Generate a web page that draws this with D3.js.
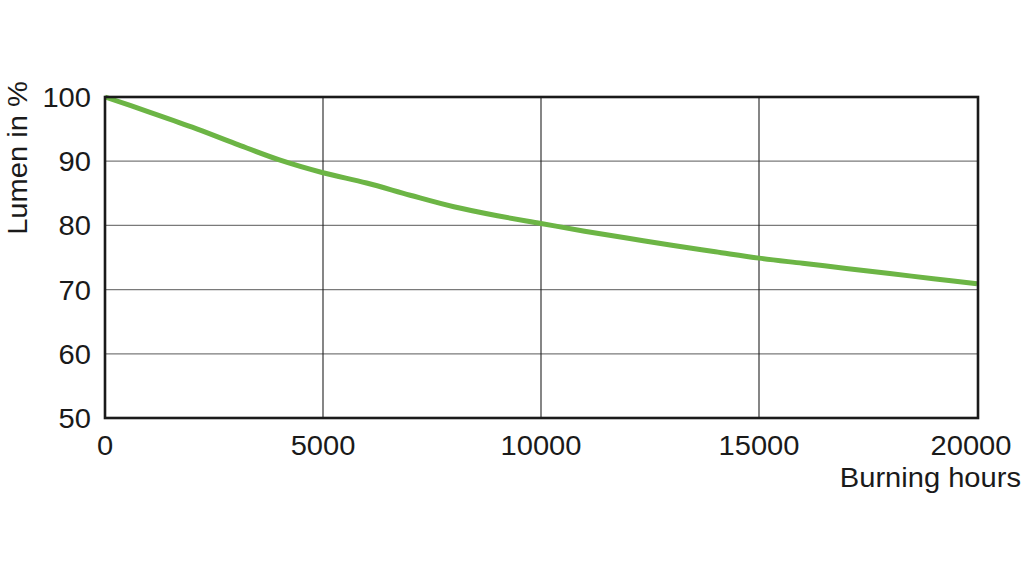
<!DOCTYPE html>
<html><head><meta charset="utf-8">
<script src="https://cdn.jsdelivr.net/npm/d3@7"></script>
<style>body{margin:0;background:#fff}svg{display:block}text{font-family:"Liberation Sans",Arial,sans-serif;fill:#1a1a1a}</style>
</head><body><svg id="c" width="1024" height="577"></svg>
<script>
const hours = [0,1000,2000,3000,4000,5000,6000,7000,8000,9000,10000,11000,12000,13000,14000,15000,16000,17000,18000,19000,20000];
const lumen = [100,97.7,95.3,92.7,90.2,88.2,86.6,84.7,82.9,81.5,80.3,79.1,78.0,76.9,75.9,74.9,74.1,73.3,72.5,71.7,70.9];
const xTicks = [0,5000,10000,15000,20000];
const yTicks = [50,60,70,80,90,100];
const xLabel = "Burning hours";
const yLabel = "Lumen in %";

const svg = d3.select("#c");
const x = d3.scaleLinear().domain([0,20000]).range([105,977]);
const y = d3.scaleLinear().domain([50,100]).range([418,97]);
const fs = 28, sx = 1.04;

svg.append("g").selectAll("line").data(yTicks.filter(d=>d>50&&d<100)).join("line")
  .attr("x1",x(0)).attr("x2",x(20000)).attr("y1",d=>y(d)).attr("y2",d=>y(d))
  .attr("stroke","#7a7a7a").attr("stroke-width",1.3);
svg.append("g").selectAll("line").data(xTicks.filter(d=>d>0&&d<20000)).join("line")
  .attr("y1",y(50)).attr("y2",y(100)).attr("x1",d=>x(d)).attr("x2",d=>x(d))
  .attr("stroke","#222").attr("stroke-width",1.1);

svg.append("path").datum(hours.map((h,i)=>[h,lumen[i]]))
  .attr("fill","none").attr("stroke","#6cb545").attr("stroke-width",5)
  .attr("d",d3.line().x(d=>x(d[0])).y(d=>y(d[1])).curve(d3.curveCatmullRom.alpha(0.5)));

svg.append("rect").attr("x",x(0)).attr("y",y(100)).attr("width",x(20000)-x(0)+1).attr("height",y(50)-y(100))
  .attr("fill","none").attr("stroke","#1a1a1a").attr("stroke-width",2.6);

svg.append("g").selectAll("text").data(yTicks).join("text")
  .attr("transform",d=>`translate(91,${y(d)+10}) scale(${sx},1)`)
  .attr("text-anchor","end").attr("font-size",fs).text(d=>d);
svg.append("g").selectAll("text").data(xTicks).join("text")
  .attr("transform",d=>`translate(${d===20000?x(d)-6:x(d)},455) scale(${sx},1)`)
  .attr("text-anchor","middle").attr("font-size",fs).text(d=>d);
svg.append("text").attr("transform",`translate(1021,487) scale(${sx},1)`)
  .attr("text-anchor","end").attr("font-size",fs).text(xLabel);
svg.append("text").attr("transform",`translate(27,158) rotate(-90) scale(${sx},1)`)
  .attr("text-anchor","middle").attr("font-size",fs).text(yLabel);
</script></body></html>
